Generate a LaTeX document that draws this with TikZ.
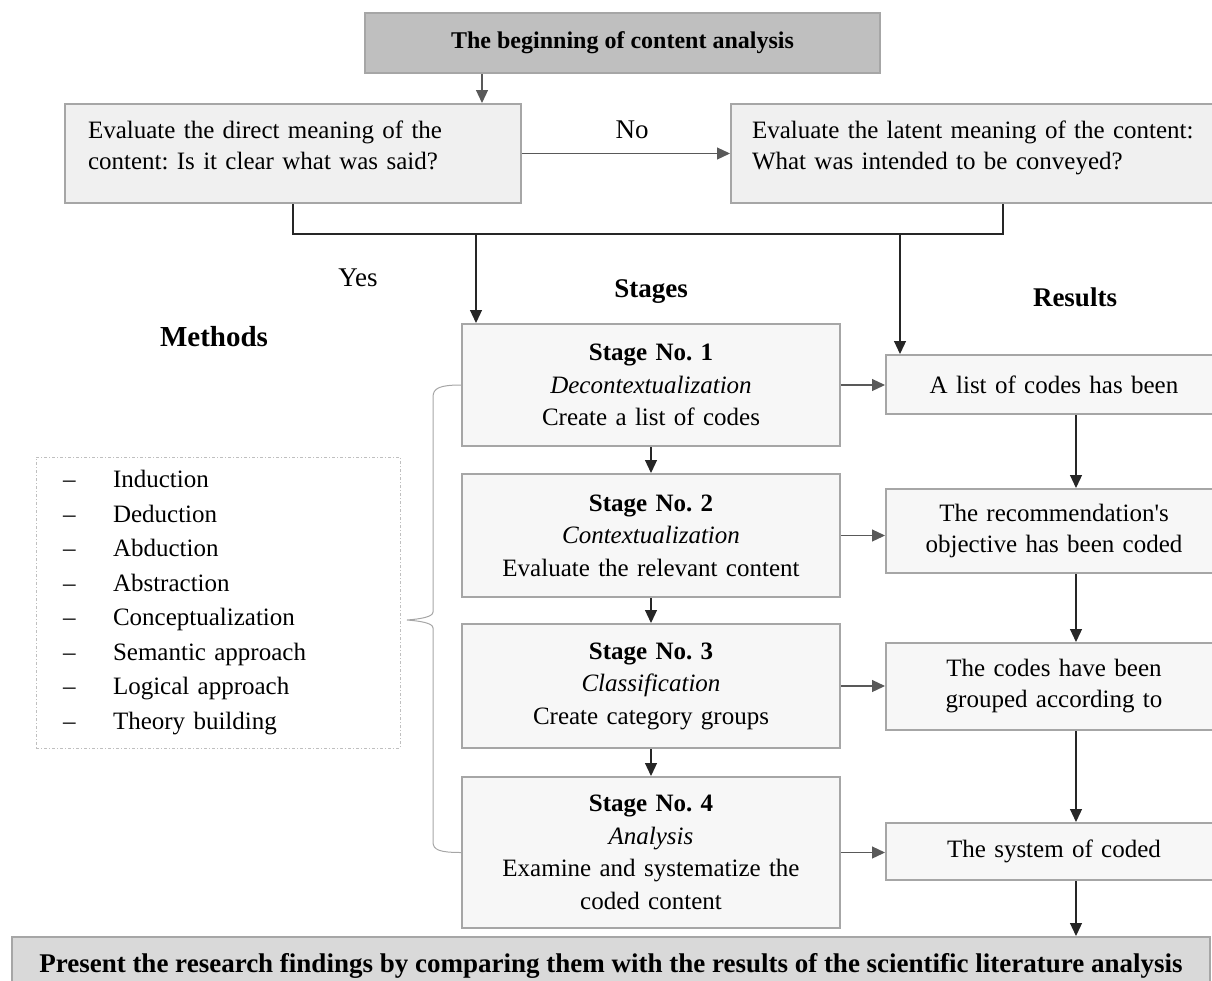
\documentclass[tikz,border=0pt]{standalone}
\usepackage{fontspec}
\setmainfont{Liberation Serif}
\usetikzlibrary{arrows.meta,positioning}
\definecolor{boxline}{HTML}{A6A6A6}
\definecolor{headfill}{HTML}{BFBFBF}
\definecolor{footfill}{HTML}{D9D9D9}
\definecolor{evalfill}{HTML}{F0F0F0}
\definecolor{stagefill}{HTML}{F7F7F7}
\definecolor{arrowgray}{HTML}{595959}
\newcommand{\mitem}[1]{\makebox[50pt][l]{--}#1}
\frenchspacing

\begin{document}
\begin{tikzpicture}[x=1pt, y=-1pt,
  box/.style={draw=boxline, line width=2pt, inner sep=0pt, font=\fontsize{25}{31}\selectfont},
  headbox/.style={box, fill=headfill, font=\fontsize{24}{31}\selectfont\bfseries},
  footbox/.style={box, fill=footfill, font=\fontsize{27}{31}\selectfont\bfseries},
  evalbox/.style={box, fill=evalfill, align=left, minimum height=99pt, text depth=48pt},
  stagebox/.style={box, fill=stagefill, minimum width=378pt, text width=370pt, align=center, font=\fontsize{25}{32.5}\selectfont},
  resultbox/.style={box, fill=stagefill, minimum width=336pt, text width=330pt, align=center},
  mlist/.style={draw=headfill, line width=1pt, dash dot, minimum width=364pt, minimum height=291pt,
    text width=310pt, align=left, inner sep=0pt, font=\fontsize{25}{34.5}\selectfont},
  lbl/.style={font=\fontsize{27}{30}\selectfont, inner sep=0pt},
  hlbl/.style={font=\fontsize{27}{30}\selectfont\bfseries, inner sep=0pt},
  line/.style={line width=1.2pt, black!85},
  barrow/.style={line width=1.2pt, black!85, -{Triangle[length=13pt,width=12pt]}},
  garrow/.style={line width=1.2pt, arrowgray, -{Triangle[length=13pt,width=12pt]}},
  brace/.style={line width=1pt, boxline},
]
\path[use as bounding box] (0,0) rectangle (1212,980);
\clip (0,0) rectangle (1212,980);

% ─── Start and the two questions ───
\node[headbox, minimum width=515pt, minimum height=60pt] (start) at (622.5,43) {The beginning of content analysis};
\node[evalbox, minimum width=456pt, text width=410pt] (evalL) at (293,153.5)
  {Evaluate the direct meaning of the\\content: Is it clear what was said?};
\node[evalbox, minimum width=544pt, text width=502pt] (evalR) at (1003,153.5)
  {Evaluate the latent meaning of the content:\\What was intended to be conveyed?};

\node[lbl] (nolbl) at (632,130) {No};
\node[lbl] (yeslbl) at (358,278) {Yes};
\node[hlbl] (stageslbl) at (651,292) {Stages};
\node[hlbl] (reslbl) at (1075,297) {Results};
\node[hlbl, font=\fontsize{29}{32}\selectfont\bfseries] (methlbl) at (214,337) {Methods};

% ─── Stages ───
\node[stagebox, minimum height=122pt] (st1) at (651,385)
  {\textbf{Stage No. 1}\\\textit{Decontextualization}\\Create a list of codes};
\node[stagebox, minimum height=123pt] (st2) at (651,535.5)
  {\textbf{Stage No. 2}\\\textit{Contextualization}\\Evaluate the relevant content};
\node[stagebox, minimum height=124pt] (st3) at (651,686)
  {\textbf{Stage No. 3}\\\textit{Classification}\\Create category groups};
\node[stagebox, minimum height=151pt] (st4) at (651,852.5)
  {\textbf{Stage No. 4}\\\textit{Analysis}\\Examine and systematize the\\coded content};

% ─── Results ───
\node[resultbox, minimum height=59pt] (res1) at (1054,384.5) {A list of codes has been};
\node[resultbox, minimum height=84pt] (res2) at (1054,531) {The recommendation\textquotesingle s\\objective has been coded};
\node[resultbox, minimum height=87pt] (res3) at (1054,686.5) {The codes have been\\grouped according to};
\node[resultbox, minimum height=57pt] (res4) at (1054,851.5) {The system of coded};

\node[footbox, minimum width=1198pt, minimum height=58pt] (finish) at (611,966)
  {Present the research findings by comparing them with the results of the scientific literature analysis};

% ─── Methods list ───
\node[mlist] (methods) at (218,602.5)
  {\mitem{Induction}\\\mitem{Deduction}\\\mitem{Abduction}\\\mitem{Abstraction}\\
   \mitem{Conceptualization}\\\mitem{Semantic approach}\\\mitem{Logical approach}\\\mitem{Theory building}};

% ─── Connectors ───
\coordinate (yesfork) at (476,233);
\coordinate (resfork) at (900,233);
\draw[garrow] ([xshift=-140.5pt]start.south) -- ([xshift=189pt]evalL.north);
\draw[garrow] (evalL.east) -- (evalR.west);
\draw[line] (evalL.south) -- ++(0,30) -| (evalR.south);
\draw[barrow] (yesfork) -- (yesfork |- st1.north);
\draw[barrow] (resfork) -- (resfork |- res1.north);

\draw[barrow] (st1) -- (st2);
\draw[barrow] (st2) -- (st3);
\draw[barrow] (st3) -- (st4);

\draw[garrow] (st1.east) -- (st1.east -| res1.west);
\draw[garrow] (st2.east) -- (st2.east -| res2.west);
\draw[garrow] (st3.east) -- (st3.east -| res3.west);
\draw[garrow] (st4.east) -- (st4.east -| res4.west);

\draw[barrow] ([xshift=22pt]res1.south) -- ([xshift=22pt]res2.north);
\draw[barrow] ([xshift=22pt]res2.south) -- ([xshift=22pt]res3.north);
\draw[barrow] ([xshift=22pt]res3.south) -- ([xshift=22pt]res4.north);
\draw[barrow] ([xshift=22pt]res4.south) -- ([xshift=22pt]res4.south |- finish.north);

% brace from the stages to the methods
\coordinate (tip) at (407,620);
\draw[brace] (st1.west) .. controls (440,385) and (433,388) .. (433,397) -- (433,612)
  .. controls (433,617) and (420,619) .. (tip) .. controls (420,621) and (433,623) .. (433,628)
  -- (433,842) .. controls (433,850) and (440,852.5) .. (st4.west);

\end{tikzpicture}
\end{document}
